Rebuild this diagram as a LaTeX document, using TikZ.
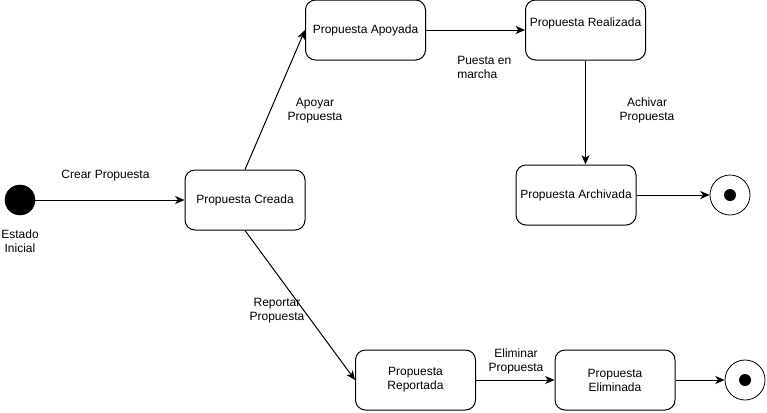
\documentclass[tikz,border=0pt]{standalone}
\usepackage{fontspec}
\setmainfont{Liberation Sans}
\usetikzlibrary{arrows.meta}
\begin{document}
\begin{tikzpicture}[x=0.75pt,y=-0.75pt,
  every node/.style={font=\fontsize{9pt}{10.5pt}\selectfont, text=black},
  stbox/.style={draw=black, line width=0.75pt, rounded corners=7.5pt, minimum width=90pt, minimum height=45pt, align=center, inner sep=1pt},
  initst/.style={circle, fill=black, draw=black, minimum size=22.5pt, inner sep=0pt},
  finst/.style={circle, draw=black, fill=white, line width=0.6pt, minimum size=30pt, inner sep=0pt,
     path picture={\fill[black] (path picture bounding box.center) circle (4.5pt);}},
  lbl/.style={align=center, inner sep=0pt},
  tr/.style={draw=black, line width=0.75pt, -{Stealth[length=7pt,width=6pt,inset=2pt]}}
]
\useasboundingbox (0,0) rectangle (767,412);

\node[initst] (ini) at (20,200) {};
\node[lbl] (inilbl) at (20,241) {Estado\\Inicial};

\node[stbox] (creada) at (245,200) {Propuesta Creada};
\node[stbox] (apoyada) at (365.5,30) {Propuesta Apoyada};
\node[stbox, label={[yshift=5.25pt]center:Propuesta Realizada}] (realizada) at (585.5,30) {};
\node[stbox] (archivada) at (576,195) {Propuesta Archivada};
\node[stbox] (reportada) at (415.5,380) {Propuesta\\Reportada};
\node[stbox] (eliminada) at (615,380) {Propuesta\\Eliminada};

\node[finst] (fin1) at (730,195) {};
\node[finst] (fin2) at (745,380) {};

\draw[tr] (ini) -- (creada.west);
\draw[tr] (creada.north) -- (apoyada.west);
\draw[tr] (apoyada.east) -- (realizada.west);
\draw[tr] (realizada.south) -- (realizada.south |- archivada.north);
\draw[tr] (archivada.east) -- (fin1.west);
\draw[tr] (creada.south) -- (reportada.west);
\draw[tr] (reportada.east) -- (eliminada.west);
\draw[tr] (eliminada.east) -- (fin2.west);

\node[lbl] (l1) at (105.5,176) {Crear Propuesta};
\node[lbl] (l2) at (315,111) {Apoyar\\Propuesta};
\node[lbl, align=left, anchor=west] (l3) at (457,67) {Puesta en\\marcha};
\node[lbl] (l4) at (647,110) {Achivar\\Propuesta};
\node[lbl] (l5) at (277,311) {Reportar\\Propuesta};
\node[lbl] (l6) at (516,361) {Eliminar\\Propuesta};
\end{tikzpicture}
\end{document}
